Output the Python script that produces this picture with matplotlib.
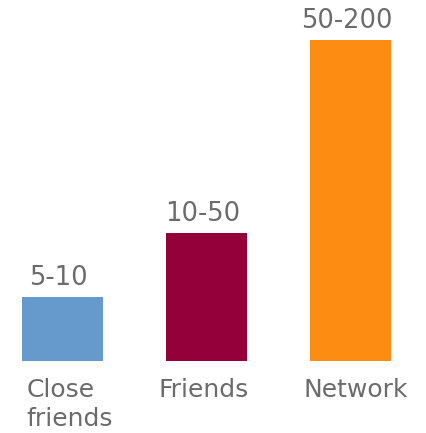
import matplotlib
matplotlib.use("Agg")
import matplotlib.pyplot as plt

categories = ["Close\nfriends", "Friends", "Network"]
heights = [1, 2, 5]
value_labels = ["5-10", "10-50", "50-200"]
colors = ["#6699cc", "#93003a", "#fd8c13"]

plt.rcParams['font.family'] = ['DejaVu Sans']
grey = "#6b6b6b"

fig = plt.figure(figsize=(4.26, 4.33), dpi=100)
ax = fig.add_axes([0, 0, 1, 1])

x = range(len(categories))
bars = ax.bar(x, heights, width=0.5625, color=colors)

for i, b in enumerate(bars):
    ax.annotate(value_labels[i], (b.get_x() + b.get_width() / 2, b.get_height()),
                xytext=(-3, 8.5), textcoords="offset points",
                ha="center", va="baseline", fontsize=18.5, color=grey)

# nudges (points) for each category label
label_dx = [3, -2, 4]
for i, name in enumerate(categories):
    if i == 0:
        # first label sits a bit right so it doesn't run off the edge
        ax.annotate(name, (i - 0.28, 0), xytext=(label_dx[i], -12), textcoords="offset points",
                    ha="left", va="top", fontsize=18, color=grey, linespacing=1.3)
    else:
        ax.annotate(name, (i, 0), xytext=(label_dx[i], -12), textcoords="offset points",
                    ha="center", va="top", fontsize=18, color=grey)

ax.set_xlim(-0.434, 2.524)
ax.set_ylim(-1.121, 5.623)
ax.axis("off")

fig.savefig("out.png", dpi=100)
